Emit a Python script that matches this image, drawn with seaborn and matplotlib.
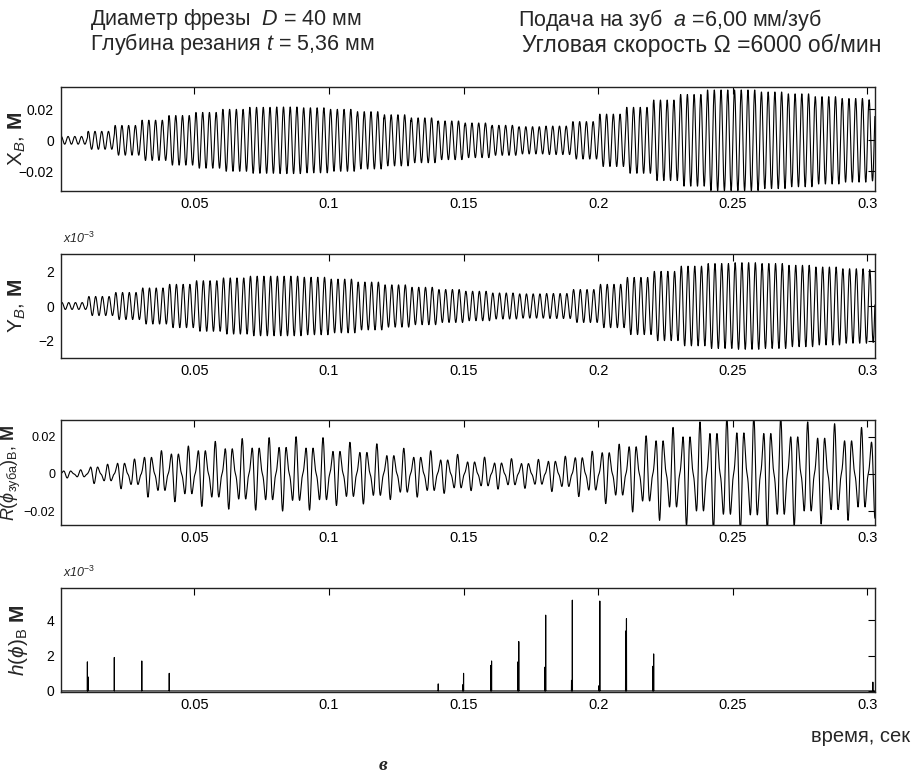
import numpy as np
import pandas as pd
import matplotlib
matplotlib.use("Agg")
import matplotlib.pyplot as plt
import seaborn as sns

# ---------------- data ----------------
rev_period = 0.01            # s, one revolution (6000 об/мин)
fs = 20000.0                 # samples per second for the traces
t_end = 0.3028
chatter_freq = 400.0         # Hz, X and Y oscillation (≈20 cycles per 0.05 s)
r_freqs = [300.0, 500.0]     # Hz, components of R(ϕ)
r_weights = [0.68, 0.32]
r_peak_time = 0.0078         # s, time of the tallest R peak inside a revolution

# envelope amplitude per revolution (k = 0 .. 30)
x_amp = [0.0025, 0.0058, 0.0096, 0.0130, 0.0160, 0.0180, 0.0200, 0.0213,
         0.0215, 0.0210, 0.0200, 0.0185, 0.0165, 0.0145, 0.0125, 0.0112,
         0.0097, 0.0088, 0.0092, 0.0121, 0.0169, 0.0213, 0.0260, 0.0296,
         0.0325, 0.0325, 0.0312, 0.0300, 0.0282, 0.0270, 0.0262]          # m
y_amp = [0.20, 0.55, 0.78, 1.04, 1.25, 1.46, 1.62, 1.72, 1.72, 1.66, 1.55,
         1.38, 1.22, 1.08, 0.95, 0.85, 0.75, 0.70, 0.72, 0.95, 1.25, 1.65,
         2.00, 2.30, 2.45, 2.50, 2.45, 2.35, 2.25, 2.15, 2.10]             # 1e-3 m
r_amp = [0.0022, 0.0052, 0.0080, 0.0125, 0.0150, 0.0175, 0.0190, 0.0195,
         0.0200, 0.0195, 0.0170, 0.0162, 0.0138, 0.0125, 0.0105, 0.0090,
         0.0082, 0.0078, 0.0095, 0.0122, 0.0160, 0.0205, 0.0250, 0.0280,
         0.0305, 0.0310, 0.0305, 0.0280, 0.0270, 0.0250, 0.0240]          # m

# cutting-depth spikes h(ϕ)
spike_t = [0.0005, 0.0103, 0.0203, 0.0305, 0.0407, 0.1406, 0.1500, 0.1604,
           0.1705, 0.1805, 0.1904, 0.2006, 0.2105, 0.2206, 0.3020]
spike_h = [0.45, 1.65, 1.90, 1.70, 1.00, 0.40, 1.00, 1.70, 2.80, 4.30, 5.15,
           5.10, 4.10, 2.10, 0.50]                                          # 1e-3 m
spike2_h = [0.0, 0.80, 0.0, 0.0, 0.0, 0.0, 0.35, 1.45, 1.65, 1.35, 0.60,
            0.30, 3.40, 1.40, 0.0]                                          # 1e-3 m

xticks = [0.05, 0.1, 0.15, 0.2, 0.25, 0.3]
xtick_labels = ["0.05", "0.1", "0.15", "0.2", "0.25", "0.3"]
yticks_x = [-0.02, 0, 0.02]
yticks_x_labels = ["\u22120.02", "0", "0.02"]
yticks_y = [-2, 0, 2]
yticks_y_labels = ["\u22122", "0", "2"]
yticks_h = [0, 2, 4]
yticks_h_labels = ["0", "2", "4"]

# ---------------- build traces ----------------
t = np.arange(0.0, t_end, 1.0 / fs)
k = np.clip(np.floor((t - 0.0004) / rev_period).astype(int), 0, len(x_amp) - 1)
X = np.asarray(x_amp)[k] * np.sin(2 * np.pi * chatter_freq * t)
Y = np.asarray(y_amp)[k] * np.sin(2 * np.pi * chatter_freq * t - 0.6)
tr = t - r_peak_time
R = np.asarray(r_amp)[k] * (r_weights[0] * np.cos(2 * np.pi * r_freqs[0] * tr)
                            + r_weights[1] * np.cos(2 * np.pi * r_freqs[1] * tr))
H = np.zeros_like(t)
for ts, h1, h2 in zip(spike_t, spike_h, spike2_h):
    i = int(round(ts * fs))
    if i < len(H):
        H[i] = h1
    if h2 > 0:
        j = i - 6 if ts > 0.1 else i + 4
        H[j] = h2

df = pd.DataFrame({"t": t, "X": X, "Y": Y, "R": R, "H": H})

# ---------------- style ----------------
sns.set_style("white")
plt.rcParams["font.family"] = ["Liberation Sans", "DejaVu Sans"]
plt.rcParams["mathtext.fontset"] = "custom"
plt.rcParams["mathtext.rm"] = "Liberation Sans"
plt.rcParams["mathtext.it"] = "Liberation Sans:italic"
plt.rcParams["mathtext.bf"] = "Liberation Sans:bold"
plt.rcParams["axes.unicode_minus"] = True

W, Hpx = 913, 779
fig = plt.figure(figsize=(W / 100, Hpx / 100), dpi=100)

left, right = 61, 875
panels = [(87, 191), (254, 358), (420, 525), (588, 692)]
axes = []
for top, bot in panels:
    ax = fig.add_axes([left / W, 1 - bot / Hpx, (right - left) / W, (bot - top) / Hpx])
    axes.append(ax)

series = ["X", "Y", "R", "H"]
for ax, col in zip(axes, series):
    sns.lineplot(data=df, x="t", y=col, ax=ax, color="black", linewidth=0.8,
                 estimator=None, sort=False)
    ax.set_xlim(0.0005, t_end)
    ax.set_xticks(xticks)
    ax.set_xticklabels(xtick_labels)
    ax.set_xlabel("")
    ax.tick_params(direction="in", length=5, width=0.8, top=True, right=True,
                   colors="black")
    ax.tick_params(axis="x", pad=4, labelsize=10.5)
    ax.tick_params(axis="y", pad=5, labelsize=10)
    for s in ax.spines.values():
        s.set_linewidth(1.0)
        s.set_color("#222222")

axes[0].set_ylim(-0.0327, 0.0344)
axes[0].set_yticks(yticks_x)
axes[0].set_yticklabels(yticks_x_labels)
axes[1].set_ylim(-3.0, 3.0)
axes[1].set_yticks(yticks_y)
axes[1].set_yticklabels(yticks_y_labels)
axes[2].set_ylim(-0.0275, 0.029)
axes[2].set_yticks(yticks_x)
axes[2].set_yticklabels(yticks_x_labels)
axes[2].tick_params(axis="y", labelsize=9, pad=4)
axes[3].set_ylim(-0.06, 5.84)
axes[3].set_yticks(yticks_h)
axes[3].set_yticklabels(yticks_h_labels)

ylabels = [r"$\mathregular{X}_{\mathit{B}}$, $\mathbf{М}$",
           r"$\mathregular{Y}_{\mathit{B}}$, $\mathbf{М}$",
           r"$\mathit{R}(\phi_{\mathregular{зуба}})_{\mathregular{B}}$, $\mathbf{М}$",
           r"$\mathit{h}(\phi)_{\mathregular{B}}$ $\mathbf{М}$"]
label_x = [-0.054, -0.054, -0.0615, -0.052]
label_fs = [15, 15, 13, 15]
for ax, lab, lx, lfs in zip(axes, ylabels, label_x, label_fs):
    ax.set_ylabel("")
    ax.text(lx, 0.5, lab, transform=ax.transAxes, rotation=90,
            ha="center", va="center", fontsize=lfs)

for ax in (axes[1], axes[3]):
    ax.text(0.002, 1.08, r"x10$^{-3}$", transform=ax.transAxes, fontsize=9,
            style="italic", ha="left", va="bottom")

fs_title = 15.5
fig.text(90 / W, 1 - 20 / Hpx, "Диаметр фрезы  $D$ = 40 мм",
         fontsize=fs_title, ha="left", va="center")
fig.text(90 / W, 1 - 44 / Hpx, "Глубина резания $t$ = 5,36 мм",
         fontsize=fs_title, ha="left", va="center")
fig.text(518 / W, 1 - 20 / Hpx, "Подача на зуб  $a$ =6,00 мм/зуб",
         fontsize=fs_title, ha="left", va="center")
fig.text(522 / W, 1 - 45 / Hpx, "Угловая скорость Ω =6000 об/мин",
         fontsize=16.5, ha="left", va="center")

fig.text(910 / W, 1 - 736 / Hpx, "время, сек", fontsize=14.5, ha="right", va="center")
fig.text(383 / W, 1 - 766 / Hpx, "в", family=["Liberation Serif", "DejaVu Serif"],
         fontsize=14, fontweight="bold", style="italic", ha="center", va="center")

fig.savefig("out.png", dpi=100)
